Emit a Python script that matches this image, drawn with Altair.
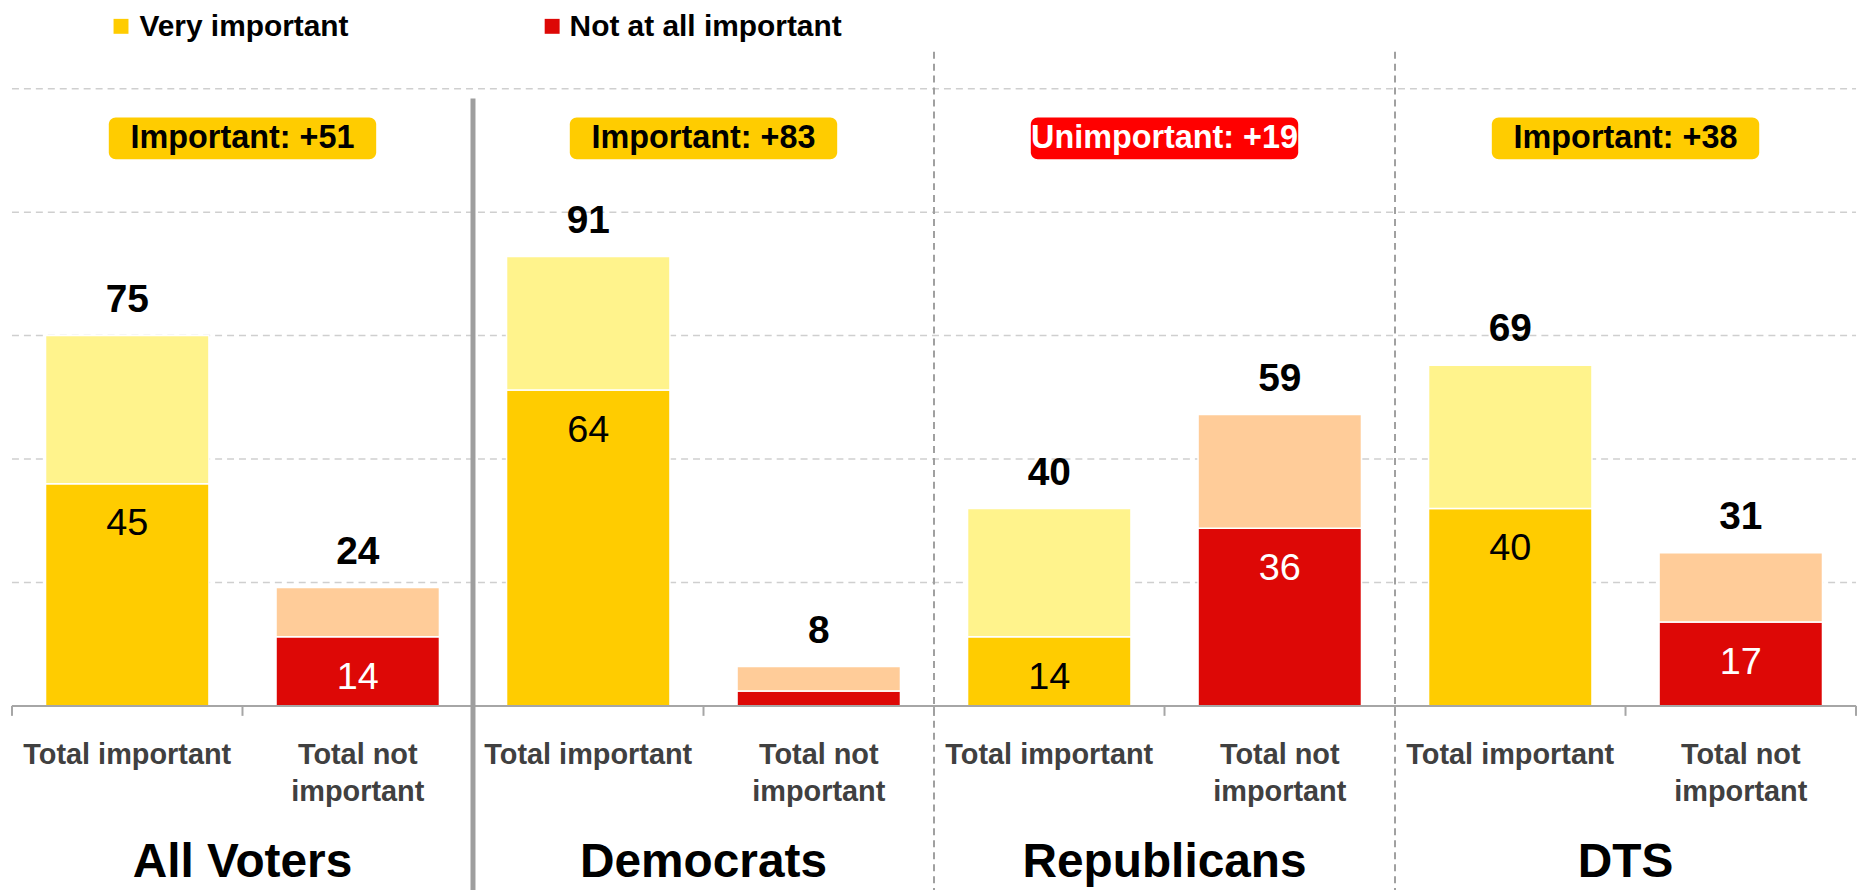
import altair as alt
import pandas as pd

# ---------------- data ----------------
groups = ["All Voters", "Democrats", "Republicans", "DTS"]
categories = ["Total important", "Total not\nimportant"]
total_important = [75, 91, 40, 69]
very_important = [45, 64, 14, 40]
total_not_important = [24, 8, 59, 31]
not_at_all_important = [14, 3, 36, 17]
net_labels = ["Important: +51", "Important: +83", "Unimportant: +19", "Important: +38"]
net_kind = ["imp", "imp", "unimp", "imp"]
legend_labels = ["Very important", "Not at all important"]
grid_values = [25, 50, 75, 100, 125]

FONT = "Liberation Sans"
W, H = 1852, 657
HALF = 0.3545  # half bar width in band units

x_scale = alt.Scale(domain=[0, 8], nice=False, zero=False)
y_scale = alt.Scale(domain=[0, 132.5], nice=False, zero=True)

# ---------------- tables ----------------
seg_rows, tot_rows, in_rows, cat_rows, badge_rows, title_rows = [], [], [], [], [], []
for g, name in enumerate(groups):
    ci, cn = 2 * g, 2 * g + 1
    seg_rows += [
        dict(x0=ci + 0.5 - HALF, x1=ci + 0.5 + HALF, y0=0, y1=very_important[g], seg="very"),
        dict(x0=ci + 0.5 - HALF, x1=ci + 0.5 + HALF, y0=very_important[g], y1=total_important[g], seg="imp_rest"),
        dict(x0=cn + 0.5 - HALF, x1=cn + 0.5 + HALF, y0=0, y1=not_at_all_important[g], seg="notall"),
        dict(x0=cn + 0.5 - HALF, x1=cn + 0.5 + HALF, y0=not_at_all_important[g], y1=total_not_important[g], seg="not_rest"),
    ]
    tot_rows += [dict(x=ci + 0.5, v=total_important[g]), dict(x=cn + 0.5, v=total_not_important[g])]
    in_rows += [dict(x=ci + 0.5, v=very_important[g], tc="black"),
                dict(x=cn + 0.5, v=not_at_all_important[g], tc="white")]
    cat_rows += [dict(x=ci + 0.5, t=categories[0]), dict(x=cn + 0.5, t=categories[1])]
    c = 2 * g + 1
    badge_rows.append(dict(x=c, x0=c - 0.58, x1=c + 0.58, t=net_labels[g],
                           fill="#FFCC00" if net_kind[g] == "imp" else "#FF0000",
                           tc="black" if net_kind[g] == "imp" else "white"))
    title_rows.append(dict(x=c, t=name))

seg_df = pd.DataFrame(seg_rows)
tot_df = pd.DataFrame(tot_rows)
in_df = pd.DataFrame(in_rows)
in_df = in_df[in_df.v >= 10]
cat_df = pd.DataFrame(cat_rows)
badge_df = pd.DataFrame(badge_rows)
title_df = pd.DataFrame(title_rows)
grid_df = pd.DataFrame({"v": grid_values})
tick_df = pd.DataFrame({"x": list(range(9))})

X = lambda f: alt.X(f, scale=x_scale, axis=None)
Y = lambda f: alt.Y(f, scale=y_scale, axis=None)

# ---------------- layers ----------------
grid = alt.Chart(grid_df).mark_rule(color="#CFCFCF", strokeWidth=1.5, strokeDash=[7, 5]).encode(
    y=Y("v:Q"), x=alt.value(0), x2=alt.value(W))

bars = alt.Chart(seg_df).mark_rect(stroke="white", strokeWidth=1.5).encode(
    x=X("x0:Q"), x2="x1:Q", y=Y("y0:Q"), y2="y1:Q",
    color=alt.Color("seg:N", legend=None,
                    scale=alt.Scale(domain=["very", "imp_rest", "notall", "not_rest"],
                                    range=["#FFCC00", "#FFF38C", "#DD0806", "#FFCC99"])),
)

axis_line = alt.Chart(pd.DataFrame({"v": [0]})).mark_rule(color="#A6A6A6", strokeWidth=2).encode(
    y=Y("v:Q"), x=alt.value(0), x2=alt.value(W))
ticks = alt.Chart(tick_df).mark_rule(color="#A6A6A6", strokeWidth=2).encode(
    x=X("x:Q"), y=alt.value(H), y2=alt.value(H + 10))

sep_solid = alt.Chart(pd.DataFrame({"x": [2]})).mark_rule(color="#9E9E9E", strokeWidth=5).encode(
    x=X("x:Q"), y=alt.value(47), y2=alt.value(842))
sep_dash = alt.Chart(pd.DataFrame({"x": [4, 6]})).mark_rule(color="#A0A0A0", strokeWidth=2, strokeDash=[7, 5]).encode(
    x=X("x:Q"), y=alt.value(0), y2=alt.value(842))

tot_text = alt.Chart(tot_df).mark_text(font=FONT, fontSize=39, fontWeight="bold", color="black",
                                       baseline="alphabetic", dy=-24).encode(
    x=X("x:Q"), y=Y("v:Q"), text="v:Q")

in_text = alt.Chart(in_df).mark_text(font=FONT, fontSize=38, baseline="alphabetic", dy=52).encode(
    x=X("x:Q"), y=Y("v:Q"), text="v:Q", color=alt.Color("tc:N", scale=None))

cat_text = alt.Chart(cat_df).mark_text(font=FONT, fontSize=29, fontWeight="bold", color="#404040",
                                       baseline="alphabetic", lineBreak="\n", lineHeight=38).encode(
    x=X("x:Q"), y=alt.value(715), text="t:N")

title_text = alt.Chart(title_df).mark_text(font=FONT, fontSize=48, fontWeight="bold", color="black",
                                           baseline="alphabetic").encode(
    x=X("x:Q"), y=alt.value(829), text="t:N")

badge_rect = alt.Chart(badge_df).mark_rect(cornerRadius=7).encode(
    x=X("x0:Q"), x2="x1:Q", y=alt.value(66), y2=alt.value(108), fill=alt.Color("fill:N", scale=None))
badge_text = alt.Chart(badge_df).mark_text(font=FONT, fontSize=32.5, fontWeight="bold", baseline="middle").encode(
    x=X("x:Q"), y=alt.value(87), text="t:N", color=alt.Color("tc:N", scale=None))

leg_df1 = pd.DataFrame({"t": [legend_labels[0]]})
leg_df2 = pd.DataFrame({"t": [legend_labels[1]]})
leg_sq1 = alt.Chart(leg_df1).mark_rect(color="#FFCC00").encode(
    x=alt.value(102), x2=alt.value(117), y=alt.value(-33), y2=alt.value(-18))
leg_tx1 = alt.Chart(leg_df1).mark_text(font=FONT, fontSize=30, fontWeight="bold", color="black",
                                       align="left", baseline="middle").encode(
    x=alt.value(128), y=alt.value(-25), text="t:N")
leg_sq2 = alt.Chart(leg_df2).mark_rect(color="#DD0806").encode(
    x=alt.value(535), x2=alt.value(550), y=alt.value(-33), y2=alt.value(-18))
leg_tx2 = alt.Chart(leg_df2).mark_text(font=FONT, fontSize=30, fontWeight="bold", color="black",
                                       align="left", baseline="middle").encode(
    x=alt.value(560), y=alt.value(-25), text="t:N")

chart = alt.layer(
    grid, bars, axis_line, ticks, sep_solid, sep_dash, tot_text, in_text, cat_text, title_text,
    badge_rect, badge_text, leg_sq1, leg_tx1, leg_sq2, leg_tx2
).properties(
    width=W, height=H,
    background="white",
    autosize=alt.AutoSizeParams(type="none"),
    padding={"left": 4, "top": 42, "right": 5, "bottom": 185},
).configure_view(stroke=None)

chart.save("out.html", embed_options={"renderer": "svg", "actions": False})
